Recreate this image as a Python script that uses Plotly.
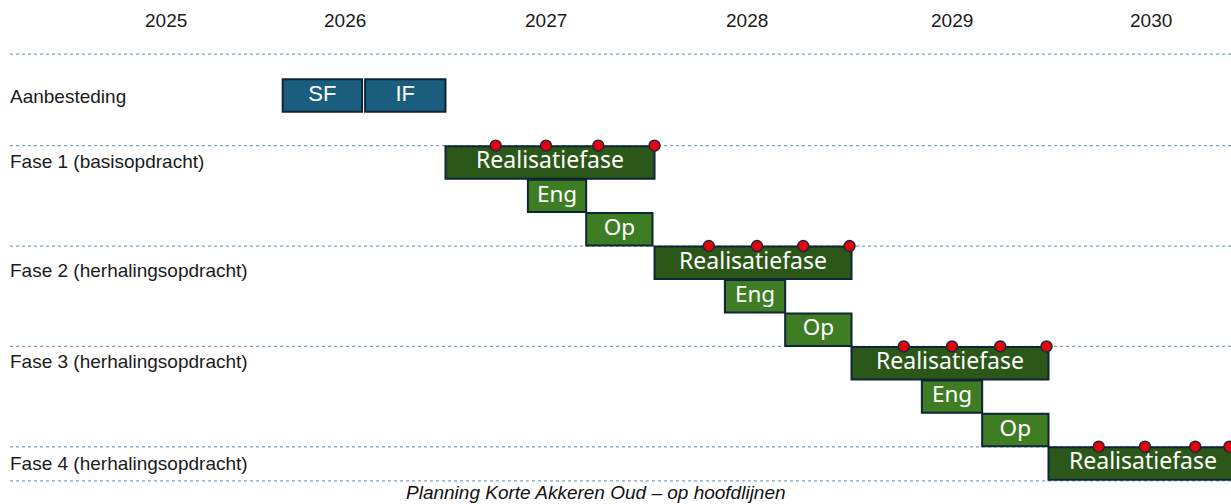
import plotly.graph_objects as go

# ---------------- data ----------------
years = ["2025", "2026", "2027", "2028", "2029", "2030"]
year_label_x = [2025.61, 2026.50, 2027.50, 2028.50, 2029.52, 2030.51]

row_labels = ["Aanbesteding", "Fase 1 (basisopdracht)", "Fase 2 (herhalingsopdracht)",
              "Fase 3 (herhalingsopdracht)", "Fase 4 (herhalingsopdracht)"]
row_label_lane = [0.04, 1.96, 5.24, 7.94, 10.99]

task_labels = ["SF", "IF",
               "Realisatiefase", "Eng", "Op",
               "Realisatiefase", "Eng", "Op",
               "Realisatiefase", "Eng", "Op",
               "Realisatiefase"]
task_kind = ["aanb", "aanb",
             "real", "sub", "sub",
             "real", "sub", "sub",
             "real", "sub", "sub",
             "real"]
task_lane = [0, 0, 2, 3, 4, 5, 6, 7, 8, 9, 10, 11]
task_start = [2026.19, 2026.60, 2027.00, 2027.41, 2027.70, 2028.04, 2028.39, 2028.69,
              2029.02, 2029.37, 2029.67, 2030.00]
task_end = [2026.585, 2027.00, 2028.04, 2027.70, 2028.03, 2029.02, 2028.69, 2029.02,
            2030.00, 2029.67, 2030.00, 2030.94]

milestone_x = [2027.25, 2027.50, 2027.76, 2028.04,
               2028.31, 2028.55, 2028.78, 2029.01,
               2029.28, 2029.52, 2029.76, 2029.99,
               2030.25, 2030.48, 2030.73, 2030.90]
milestone_lane = [2] * 4 + [5] * 4 + [8] * 4 + [11] * 4

separator_lane = [-1.24, 1.5, 4.5, 7.5, 10.5, 11.52]

caption = "Planning Korte Akkeren Oud – op hoofdlijnen"

# ---------------- styles ----------------
kind_color = {"aanb": "#1a5d7e", "real": "#2b5719", "sub": "#3f7d24"}
kind_font = {"aanb": "Liberation Sans", "real": "Noto Sans", "sub": "Noto Sans"}
kind_size = {"aanb": 22, "real": 23, "sub": 22.5}
edge = "#0f2536"

fig = go.Figure()

# bars
fig.add_trace(go.Bar(
    orientation="h",
    y=task_lane,
    base=task_start,
    x=[e - s for s, e in zip(task_start, task_end)],
    width=0.97,
    marker=dict(color=[kind_color[k] for k in task_kind], line=dict(color=edge, width=2)),
    hoverinfo="skip",
    showlegend=False,
))

# bar labels
for k in ["aanb", "real", "sub"]:
    idx = [i for i, kk in enumerate(task_kind) if kk == k]
    fig.add_trace(go.Scatter(
        x=[(task_start[i] + task_end[i]) / 2 for i in idx],
        y=[task_lane[i] for i in idx],
        text=[task_labels[i] for i in idx],
        mode="text",
        textfont=dict(color="white", size=kind_size[k], family=kind_font[k]),
        hoverinfo="skip",
        showlegend=False,
        cliponaxis=False,
    ))

# milestones
fig.add_trace(go.Scatter(
    x=milestone_x,
    y=[l - 0.5 for l in milestone_lane],
    mode="markers",
    marker=dict(size=11, color="#e8000b", line=dict(color="#1a2a3a", width=1.5)),
    hoverinfo="skip",
    showlegend=False,
    cliponaxis=False,
))

# separator lines
for yl in separator_lane:
    fig.add_shape(type="line", xref="paper", x0=10 / 1231, x1=1.0, yref="y", y0=yl, y1=yl,
                  line=dict(color="#7ba3bf", width=1.2, dash="dot"), layer="below")

# year labels
for yr, xx in zip(years, year_label_x):
    fig.add_annotation(x=xx, y=-2.23, text=yr, showarrow=False,
                       font=dict(size=19, color="#1a1a1a", family="Liberation Sans"))

# row labels
for lab, ln in zip(row_labels, row_label_lane):
    fig.add_annotation(xref="paper", x=8 / 1231, xanchor="left", y=ln, text=lab,
                       showarrow=False,
                       font=dict(size=19, color="#1a1a1a", family="Liberation Sans"))

# caption
fig.add_annotation(xref="paper", x=596 / 1231, y=11.87, text="<i>" + caption + "</i>",
                   showarrow=False, font=dict(size=19, color="#111111", family="Liberation Sans"))

fig.update_layout(
    width=1231, height=504,
    margin=dict(l=0, r=0, t=0, b=0),
    paper_bgcolor="white", plot_bgcolor="white",
    barmode="overlay",
    xaxis=dict(range=[2024.7836, 2030.908], visible=False, fixedrange=True),
    yaxis=dict(range=[12.21, -2.855], visible=False, fixedrange=True),
)

fig.write_html("out.html", config={"displayModeBar": False},
               post_script="document.body.style.margin='0';document.body.style.overflow='hidden';")
